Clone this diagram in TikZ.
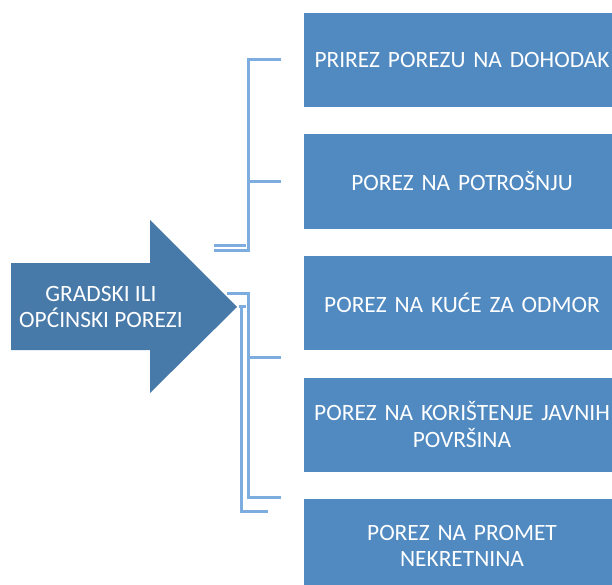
\documentclass[tikz,border=0pt]{standalone}
\usepackage{fontspec}
\setmainfont{Carlito}
\definecolor{boxblue}{RGB}{80,138,193}
\definecolor{arrowblue}{RGB}{71,121,169}
\definecolor{lineblue}{RGB}{125,172,222}
\begin{document}
\begin{tikzpicture}[x=1pt,y=-1pt,
  taxbox/.style={fill=boxblue, draw=none, minimum width=316pt, minimum height=94pt,
    text=white, align=center, text width=310pt, inner sep=0pt,
    font=\fontsize{23.4}{26.5}\selectfont},
  conn/.style={draw=lineblue, line width=3pt}]
\useasboundingbox (0,0) rectangle (612,585);
% arrow
\fill[arrowblue] (11,263) -- (150,263) -- (150,220) -- (237,307) -- (150,393) -- (150,350) -- (11,350) -- cycle;
\node[text=white, align=center, font=\fontsize{23.4}{26.5}\selectfont] (main) at (101,307) {GRADSKI ILI\\OPĆINSKI POREZI};
% boxes
\node[taxbox] (b1) at (462,60) {PRIREZ POREZU NA DOHODAK};
\node[taxbox] (b2) at (462,181.5) {POREZ NA POTROŠNJU};
\node[taxbox] (b3) at (462,303) {POREZ NA KUĆE ZA ODMOR};
\node[taxbox] (b4) at (462,424.5) {POREZ NA KORIŠTENJE JAVNIH\\POVRŠINA};
\node[taxbox] (b5) at (462,546) {POREZ NA PROMET\\NEKRETNINA};
% connector endpoints
\coordinate (a1) at (214,250);
\coordinate (a1b) at (214,245);
\coordinate (e1) at (281,60);
\coordinate (e2) at (281,182);
\coordinate (a2) at (227,293);
\coordinate (e3) at (281,357);
\coordinate (e4) at (281,497);
\coordinate (a3) at (239,306);
\coordinate (e5) at (268,511);
% connectors
\draw[conn] (a1) -- (248,250) -- (248,60) -- (e1);
\draw[conn] (a1b) -- (246,245);
\draw[conn] (248,182) -- (e2);
\draw[conn] (a2) -- (248,293) -- (248,497) -- (e4);
\draw[conn] (248,357) -- (e3);
\draw[conn] (a3) -- (246,306);
\draw[conn] (241,306) -- (241,511) -- (e5);
\end{tikzpicture}
\end{document}
